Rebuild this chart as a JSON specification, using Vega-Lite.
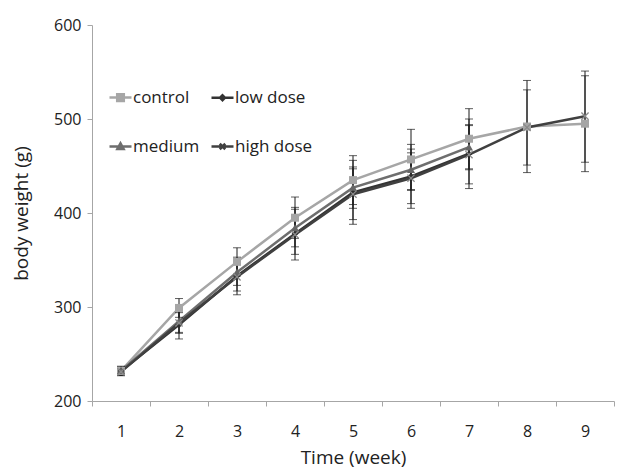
{
  "$schema": "https://vega.github.io/schema/vega-lite/v6.json",
  "width": 522,
  "height": 376,
  "autosize": {"type": "none"},
  "padding": {"left": 92, "top": 25, "right": 18, "bottom": 70},
  "background": "white",
  "config": {
    "font": "Open Sans",
    "view": {"stroke": null},
    "axis": {
      "domainColor": "#a6a6a6",
      "tickColor": "#a6a6a6",
      "tickSize": 5,
      "labelFontSize": 16,
      "labelColor": "#222222",
      "titleFontSize": 19,
      "titleFontWeight": "normal",
      "titleColor": "#222222",
      "grid": false
    }
  },
  "data": {
    "values": [
      {"week": 1, "group": "control", "weight": 232, "lo": 228, "hi": 236},
      {"week": 2, "group": "control", "weight": 299, "lo": 289, "hi": 309},
      {"week": 3, "group": "control", "weight": 348, "lo": 333, "hi": 363},
      {"week": 4, "group": "control", "weight": 395, "lo": 373, "hi": 417},
      {"week": 5, "group": "control", "weight": 435, "lo": 409, "hi": 461},
      {"week": 6, "group": "control", "weight": 457, "lo": 425, "hi": 489},
      {"week": 7, "group": "control", "weight": 479, "lo": 447, "hi": 511},
      {"week": 8, "group": "control", "weight": 492, "lo": 443, "hi": 541},
      {"week": 9, "group": "control", "weight": 495, "lo": 444, "hi": 546},
      {"week": 1, "group": "low dose", "weight": 232, "lo": 227, "hi": 237},
      {"week": 2, "group": "low dose", "weight": 281, "lo": 266, "hi": 296},
      {"week": 3, "group": "low dose", "weight": 333, "lo": 313, "hi": 353},
      {"week": 4, "group": "low dose", "weight": 378, "lo": 350, "hi": 406},
      {"week": 5, "group": "low dose", "weight": 422, "lo": 388, "hi": 456},
      {"week": 6, "group": "low dose", "weight": 439, "lo": 405, "hi": 473},
      {"week": 7, "group": "low dose", "weight": 463, "lo": 426, "hi": 500},
      {"week": 1, "group": "medium", "weight": 232, "lo": 228, "hi": 236},
      {"week": 2, "group": "medium", "weight": 285, "lo": 273, "hi": 297},
      {"week": 3, "group": "medium", "weight": 337, "lo": 323, "hi": 351},
      {"week": 4, "group": "medium", "weight": 384, "lo": 364, "hi": 404},
      {"week": 5, "group": "medium", "weight": 427, "lo": 405, "hi": 449},
      {"week": 6, "group": "medium", "weight": 446, "lo": 424, "hi": 468},
      {"week": 7, "group": "medium", "weight": 470, "lo": 446, "hi": 494},
      {"week": 1, "group": "high dose", "weight": 231, "lo": 227, "hi": 235},
      {"week": 2, "group": "high dose", "weight": 283, "lo": 272, "hi": 294},
      {"week": 3, "group": "high dose", "weight": 332, "lo": 317, "hi": 347},
      {"week": 4, "group": "high dose", "weight": 377, "lo": 356, "hi": 398},
      {"week": 5, "group": "high dose", "weight": 420, "lo": 393, "hi": 447},
      {"week": 6, "group": "high dose", "weight": 437, "lo": 410, "hi": 464},
      {"week": 7, "group": "high dose", "weight": 462, "lo": 431, "hi": 493},
      {"week": 8, "group": "high dose", "weight": 491, "lo": 451, "hi": 531},
      {"week": 9, "group": "high dose", "weight": 503, "lo": 454, "hi": 551}
    ]
  },
  "encoding": {
    "x": {
      "field": "week",
      "type": "ordinal",
      "scale": {"type": "band", "paddingInner": 0, "paddingOuter": 0},
      "axis": {
        "title": "Time (week)",
        "labelAngle": 0,
        "tickBand": "extent",
        "labelPadding": 17,
        "titlePadding": 9
      }
    },
    "y": {
      "field": "weight",
      "type": "quantitative",
      "scale": {"domain": [200, 600]},
      "axis": {"values": [200, 300, 400, 500, 600], "title": "body weight (g)", "labelPadding": 6, "titlePadding": 22}
    }
  },
  "layer": [
    {
      "mark": {"type": "line", "strokeWidth": 2.5},
      "encoding": {
        "color": {
          "field": "group",
          "type": "nominal",
          "scale": {
            "domain": ["control", "low dose", "medium", "high dose"],
            "range": ["#a6a6a6", "#333333", "#6e6e6e", "#404040"]
          },
          "legend": {
            "title": null,
            "orient": "none",
            "direction": "horizontal",
            "legendX": 16,
            "legendY": 60,
            "columns": 2,
            "symbolSize": 484,
            "symbolStrokeWidth": 2.5,
            "labelFontSize": 17,
            "labelColor": "#222222",
            "labelOffset": 0,
            "rowPadding": 28,
            "columnPadding": 6,
            "encode": {
              "symbols": {
                "update": {
                  "shape": {"signal": "datum.value === 'control' ? 'M-1,0L1,0M-0.3,-0.3L0.3,-0.3L0.3,0.3L-0.3,0.3Z' : datum.value === 'low dose' ? 'M-1,0L1,0M-0.22,0L0,-0.22L0.22,0L0,0.22Z' : datum.value === 'medium' ? 'M-1,0L1,0M-0.28,0.22L0,-0.28L0.28,0.22Z' : 'M-1,0L1,0M-0.25,-0.25L0.25,0.25M-0.25,0.25L0.25,-0.25'"},
                  "fill": {"signal": "scale('color', datum.value)"}
                }
              }
            }
          }
        }
      }
    },
    {
      "mark": {"type": "errorbar", "ticks": {"size": 8}, "color": "#1a1a1a", "thickness": 1},
      "encoding": {
        "y": {"field": "lo", "type": "quantitative", "title": "body weight (g)"},
        "y2": {"field": "hi"},
        "detail": {"field": "group"}
      }
    },
    {
      "transform": [{"filter": "datum.group === 'control'"}],
      "mark": {"type": "point", "shape": "M-1,-1L1,-1L1,1L-1,1Z", "size": 64, "filled": true, "opacity": 1, "color": "#a6a6a6"}
    },
    {
      "transform": [{"filter": "datum.group === 'low dose'"}],
      "mark": {"type": "point", "shape": "M-0.85,0L0,-0.85L0.85,0L0,0.85Z", "size": 64, "filled": true, "opacity": 1, "color": "#2e2e2e"}
    },
    {
      "transform": [{"filter": "datum.group === 'medium'"}],
      "mark": {"type": "point", "shape": "M-1,0.8L0,-0.95L1,0.8Z", "size": 64, "filled": true, "opacity": 1, "color": "#666666"}
    },
    {
      "transform": [{"filter": "datum.group === 'high dose'"}],
      "mark": {"type": "point", "shape": "M-0.9,-0.9L0.9,0.9M-0.9,0.9L0.9,-0.9", "size": 64, "filled": false, "opacity": 1, "strokeWidth": 1.3, "color": "#8a8a8a"}
    }
  ]
}
